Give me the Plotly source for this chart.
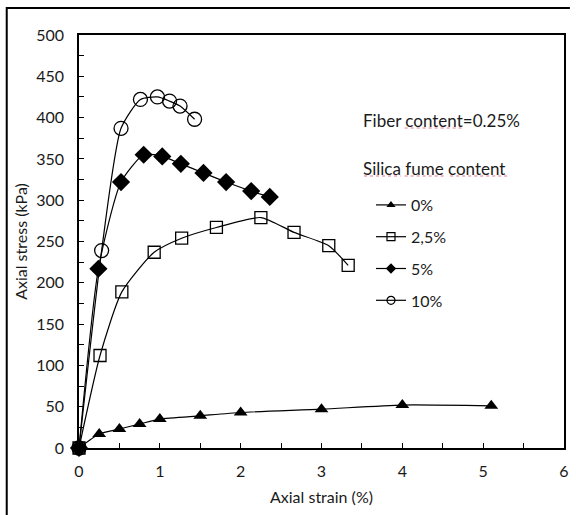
import plotly.graph_objects as go

# Axial strain (%) / axial stress (kPa) for each silica fume content
strain_0 = [0, 0.25, 0.5, 0.75, 1.0, 1.5, 2.0, 3.0, 4.0, 5.1]
stress_0 = [0, 17, 23, 29, 35, 39, 43, 47, 52, 51]

strain_25 = [0, 0.26, 0.53, 0.93, 1.27, 1.7, 2.25, 2.66, 3.09, 3.33]
stress_25 = [0, 112, 189, 237, 254, 267, 279, 261, 245, 221]

strain_5 = [0, 0.24, 0.52, 0.8, 1.03, 1.26, 1.54, 1.82, 2.13, 2.36]
stress_5 = [0, 217, 322, 355, 353, 344, 333, 322, 311, 304]

strain_10 = [0, 0.28, 0.52, 0.76, 0.97, 1.12, 1.25, 1.43]
stress_10 = [0, 239, 387, 422, 425, 420, 414, 398]

series_names = ["0%", "2,5%", "5%", "10%"]
x_ticks = [0, 1, 2, 3, 4, 5, 6]
y_ticks = [0, 50, 100, 150, 200, 250, 300, 350, 400, 450, 500]

FONT = "Lato"
TXT = "#1a1a1a"

# plot-area geometry in pixels, used to place paper-referenced items
L, R, T, B = 79, 569, 35, 448


def px(x):
    return (x - L) / (R - L)


def py(y):
    return (B - y) / (B - T)


styles = [
    dict(symbol="triangle-up", size=12, color="black", line=dict(width=0)),
    dict(symbol="square-open", size=12, color="black", line=dict(width=1.3)),
    dict(symbol="diamond", size=14, color="black", line=dict(width=0)),
    dict(symbol="circle-open", size=14, color="black", line=dict(width=1.3)),
]
legend_styles = [
    dict(symbol="triangle-up", size=8, color="black"),
    dict(symbol="square-open", size=8, color="black", line=dict(width=1.2)),
    dict(symbol="diamond", size=8, color="black"),
    dict(symbol="circle-open", size=8, color="black", line=dict(width=1.2)),
]
data = [(strain_0, stress_0), (strain_25, stress_25), (strain_5, stress_5), (strain_10, stress_10)]

fig = go.Figure()
for i, (xs, ys) in enumerate(data):
    fig.add_trace(go.Scatter(
        x=xs, y=ys, mode="lines+markers",
        line=dict(color="black", width=1.2, shape="spline", smoothing=0.6),
        marker=styles[i], showlegend=False, cliponaxis=False,
    ))
for i, name in enumerate(series_names):
    fig.add_trace(go.Scatter(
        x=[None], y=[None], mode="lines+markers", name=name,
        line=dict(color="black", width=1.2),
        marker=legend_styles[i], legendgroup=name,
    ))

axis_common = dict(
    showline=True, linecolor="black", linewidth=1.5, mirror=True,
    ticks="inside", ticklen=5, tickcolor="black", tickwidth=1,
    showgrid=False, zeroline=False,
    tickfont=dict(family=FONT, size=16, color=TXT),
)
fig.update_xaxes(
    range=[0, 6], tickvals=x_ticks, ticklabelstandoff=8,
    minor=dict(dtick=0.5, ticks="inside", ticklen=5, tickcolor="black"),
    title=dict(text="Axial strain (%)", font=dict(family=FONT, size=16, color=TXT), standoff=13),
    **axis_common,
)
fig.update_yaxes(
    range=[0, 500], tickvals=y_ticks, ticklabelstandoff=10,
    minor=dict(dtick=25, ticks="inside", ticklen=5, tickcolor="black"),
    title=dict(text="Axial stress (kPa)", font=dict(family=FONT, size=16, color=TXT), standoff=5),
    **axis_common,
)

fig.add_annotation(text="Fiber content=0.25%", xref="paper", yref="paper",
                   x=px(364), y=py(120), xanchor="left", yanchor="middle",
                   showarrow=False, font=dict(family=FONT, size=17, color=TXT))
fig.add_annotation(text="Silica fume content", xref="paper", yref="paper",
                   x=px(364), y=py(168), xanchor="left", yanchor="middle",
                   showarrow=False, font=dict(family=FONT, size=17, color=TXT))

# proofing underlines beneath the note words
for x0, x1, y in [(408, 467, 128), (367, 404, 176), (408, 450, 176), (454, 512, 176)]:
    fig.add_shape(type="line", xref="paper", yref="paper",
                  x0=px(x0), x1=px(x1), y0=py(y), y1=py(y),
                  line=dict(color="#e0788a", width=1, dash="dot"))

# outer frame: left and top edges as one open path
frame_path = "M {:.4f},{:.4f} L {:.4f},{:.4f} L {:.4f},{:.4f}".format(
    px(6), py(515), px(6), py(8), px(575), py(8))
fig.add_shape(type="path", xref="paper", yref="paper", path=frame_path,
              line=dict(color="black", width=2))

fig.update_layout(
    width=576, height=515,
    margin=dict(l=L, r=576 - R, t=T, b=515 - B),
    paper_bgcolor="white", plot_bgcolor="white",
    font=dict(family=FONT, color=TXT),
    legend=dict(x=px(374), y=py(188), xanchor="left", yanchor="top",
                bgcolor="rgba(0,0,0,0)", font=dict(family=FONT, size=16, color=TXT),
                traceorder="grouped", tracegroupgap=8, itemwidth=30),
)

fig.write_html("out.html")
